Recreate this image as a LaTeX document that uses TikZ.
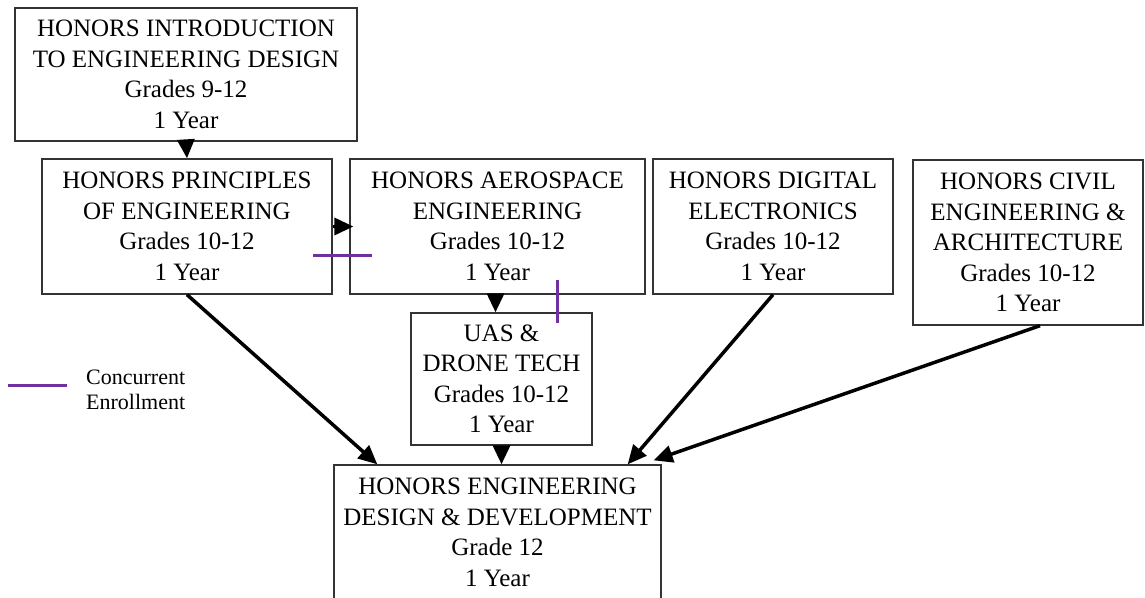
\documentclass[tikz,border=0pt]{standalone}
\usepackage{fontspec}
\setmainfont{Liberation Serif}
\usetikzlibrary{arrows.meta,positioning}
\definecolor{concpurple}{HTML}{7030A0}

\begin{document}
\begin{tikzpicture}[x=1pt,y=-1pt,>={Triangle[length=19pt,width=17pt]}]
			\tikzstyle{course}=[draw=black!80,line width=1.3pt,align=center,inner sep=0pt,font=\fontsize{25}{30.5}\selectfont]
			\tikzstyle{prereq}=[->,line width=3.5pt]
			\tikzstyle{concurrent}=[draw=concpurple,line width=3pt]
			\tikzstyle{annot}=[align=left,inner sep=0pt,font=\fontsize{22}{25.5}\selectfont]
			
			% Fix the page size
			\useasboundingbox (0,0) rectangle (1145,597);
			\clip (0,0) rectangle (1145,597);
			
			% Draw the first course
			\node[course,minimum width=342pt,minimum height=133pt] (intro) at (186,74.5)
			{HONORS INTRODUCTION\\TO ENGINEERING DESIGN\\Grades 9-12\\1 Year};
			
			% Draw the second row of courses
			\foreach \name/\x/\w/\txt in {princ/187/290/{HONORS PRINCIPLES\\OF ENGINEERING},
				aero/497.5/295/{HONORS AEROSPACE\\ENGINEERING},
				digital/773/240/{HONORS DIGITAL\\ELECTRONICS}}
			\node[course,minimum width=\w pt,minimum height=135pt] (\name) at (\x,226.5)
			{\txt\\Grades 10-12\\1 Year};
			
			\node[course,minimum width=230pt,minimum height=165pt] (civil) at (1028,242.5)
			{HONORS CIVIL\\ENGINEERING \&\\ARCHITECTURE\\Grades 10-12\\1 Year};
			
			% Draw the drone course
			\node[course,minimum width=181pt,minimum height=132pt] (uas) at (501.5,379)
			{UAS \&\\DRONE TECH\\Grades 10-12\\1 Year};
			
			% Draw the last course
			\node[course,minimum width=327pt,minimum height=135pt] (edd) at (497.5,532.5)
			{HONORS ENGINEERING\\DESIGN \& DEVELOPMENT\\Grade 12\\1 Year};
			
			% Connect the courses
			\draw[prereq] (intro.south) -- (princ.north);
			\draw[prereq] (princ.east) -- ([xshift=4pt]aero.west);
			\draw[prereq] ([xshift=-2pt]aero.south) -- ([xshift=-2pt]aero.south |- uas.north);
			\draw[prereq] (uas.south) -- (uas.south |- edd.north);
			\draw[prereq] (princ.south) -- ([xshift=44pt]edd.north west);
			\draw[prereq] (digital.south) -- ([xshift=-34pt]edd.north east);
			\draw[prereq] ([xshift=12pt]civil.south) -- ([xshift=-8pt,yshift=4pt]edd.north east);
			
			% Mark concurrent enrollment
			\draw[concurrent] (313,255) -- (372,255);
			\draw[concurrent] (557,280) -- (557,323);
			
			% Legend
			\draw[concurrent] (8,385) -- (67,385);
			\node[annot,anchor=west] (legend) at (86,390) {Concurrent\\Enrollment};
		\end{tikzpicture}
\end{document}
